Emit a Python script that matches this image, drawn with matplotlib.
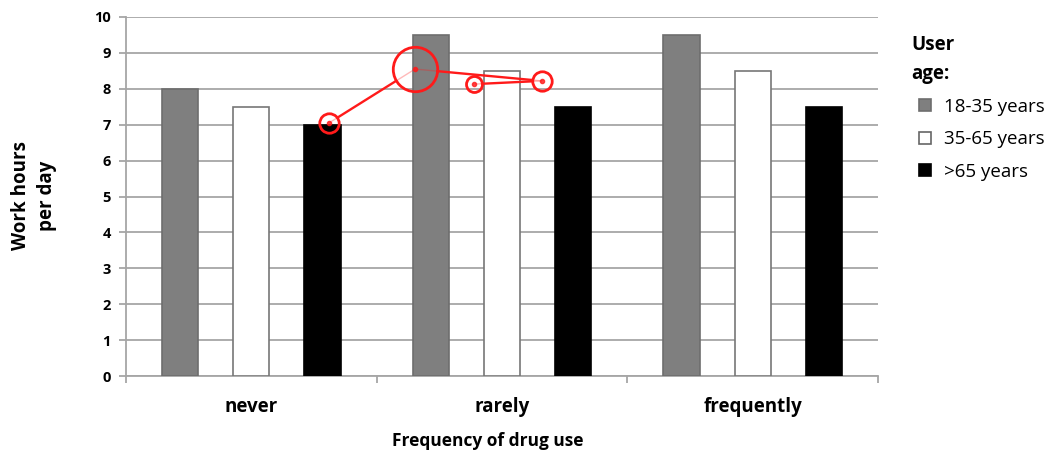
import matplotlib
matplotlib.use("Agg")
import matplotlib.pyplot as plt
from matplotlib.lines import Line2D
import numpy as np

categories = ["never", "rarely", "frequently"]
series_names = ["18-35 years", "35-65 years", ">65 years"]
values_18_35 = [8.0, 9.5, 9.5]
values_35_65 = [7.5, 8.5, 8.5]
values_65 = [7.0, 7.5, 7.5]
yticks = list(range(0, 11))

# red hand-drawn annotation overlay (data coordinates)
ann_x = [0.31, 0.653, 0.888, 1.159]
ann_y = [7.05, 8.55, 8.13, 8.22]
ann_size = [14, 32, 11.5, 14]
ann_links = [(0, 1), (1, 3), (2, 3)]

plt.rcParams['font.family'] = ['Open Sans', 'DejaVu Sans']

fig = plt.figure(figsize=(10.54, 4.54), dpi=100)
ax = fig.add_axes([126/1054, 78/454, (878-126)/1054, (376-17)/454])

x = np.arange(len(categories))
w = 0.144
off = 0.284
fills = ["#7f7f7f", "#ffffff", "#000000"]
edges = ["#6e6e6e", "#777777", "#000000"]
all_vals = [values_18_35, values_35_65, values_65]
for i, vals in enumerate(all_vals):
    ax.bar(x + (i - 1) * off, vals, width=w, color=fills[i], edgecolor=edges[i],
           linewidth=1.2, zorder=3, label=series_names[i])

ax.set_xlim(-0.5, 2.5)
ax.set_ylim(0, 10)
ax.set_yticks(yticks)
ax.set_yticklabels([str(t) for t in yticks], fontsize=10.5, fontweight='bold')
ax.yaxis.grid(True, color="#a6a6a6", linewidth=1.3, zorder=0)
ax.set_axisbelow(True)

# category labels, ticks at boundaries
ax.set_xticks([-0.5, 0.5, 1.5, 2.5])
ax.set_xticklabels([])
ax.set_xticks(x, minor=True)
ax.set_xticklabels(categories, minor=True, fontsize=13.5, fontweight='bold')
ax.tick_params(axis='x', which='minor', length=0, pad=15)
ax.tick_params(axis='x', which='major', length=5, color="#a6a6a6", width=1.3)
ax.tick_params(axis='y', length=5, color="#a6a6a6", width=1.3, pad=6)

for s in ['top', 'right']:
    ax.spines[s].set_visible(False)
for s in ['left', 'bottom']:
    ax.spines[s].set_color("#a6a6a6")
    ax.spines[s].set_linewidth(1.3)

fig.text(488/1054, 1 - 441/454, "Frequency of drug use", fontsize=12.5, fontweight='bold',
         ha='center', va='center')
fig.text(34/1054, 1 - 196/454, "Work hours\nper day", rotation=90, ha='center', va='center',
         fontsize=13.5, fontweight='bold', linespacing=1.45)

# red annotation overlay
red = "#ff1a1a"
trans = ax.transData
inv = trans.inverted()
for a, b in ann_links:
    p0 = np.array(trans.transform((ann_x[a], ann_y[a])))
    p1 = np.array(trans.transform((ann_x[b], ann_y[b])))
    d = p1 - p0
    u = d / np.hypot(*d)
    r0 = ann_size[a] / 2 * 100 / 72
    r1 = ann_size[b] / 2 * 100 / 72
    q0 = p0 + u * r0
    q1 = p1 - u * r1
    (x0, y0), (x1, y1) = inv.transform([q0, q1])
    ax.plot([x0, x1], [y0, y1], color=red, lw=1.7, zorder=5, solid_capstyle='round')
    (cx0, cy0), (cx1, cy1) = inv.transform([p0, q0])
    ax.plot([cx0, cx1], [cy0, cy1], color=red, lw=1.0, alpha=0.3, zorder=5)
    (cx0, cy0), (cx1, cy1) = inv.transform([q1, p1])
    ax.plot([cx0, cx1], [cy0, cy1], color=red, lw=1.0, alpha=0.3, zorder=5)
for xi, yi, si in zip(ann_x, ann_y, ann_size):
    ax.plot([xi], [yi], marker='o', ms=si, mfc='none', mec=red, mew=2.0, zorder=6)
    ax.plot([xi], [yi], marker='o', ms=3, mfc=red, mec=red, zorder=6, alpha=0.8)

# legend
fig.text(911/1054, 1 - 45/454, "User", fontsize=13.5, fontweight='bold', ha='left', va='center')
fig.text(911/1054, 1 - 74/454, "age:", fontsize=13.5, fontweight='bold', ha='left', va='center')
handles = [Line2D([0], [0], marker='s', linestyle='none', ms=8.5, mfc=fills[i],
                  mec=edges[i] if i != 1 else "#666666", mew=1.2) for i in range(3)]
leg = fig.legend(handles, series_names, loc='upper left', bbox_to_anchor=(906/1054, 1 - 92/454),
                 frameon=False, fontsize=13.5, handletextpad=0.35, labelspacing=0.78,
                 handlelength=1.4, borderaxespad=0, borderpad=0.3)

fig.savefig("out.png", dpi=100, facecolor='white')
